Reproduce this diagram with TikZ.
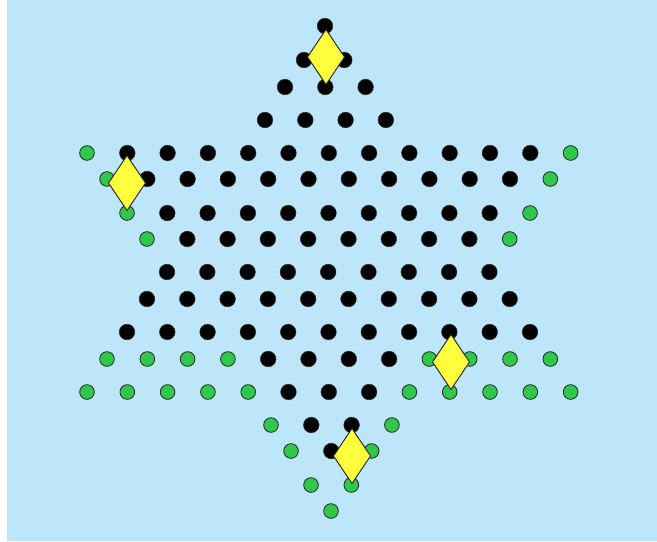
\documentclass[tikz,border=0pt]{standalone}
\usepackage{tikz}

\definecolor{boardblue}{HTML}{BEE6FA}
\definecolor{holegreen}{HTML}{2EC84A}
\definecolor{pegyellow}{HTML}{FFFF3C}

\begin{document}
\begin{tikzpicture}[x=0.03cm, y=-0.03cm,
        hole/.style={fill=black, draw=black!80, line width=0.4pt},
        home/.style={fill=holegreen, draw=black!85, line width=0.7pt},
        peg/.style={fill=pegyellow, draw=black!85, line width=0.8pt, line join=round}]
        \useasboundingbox (0, 0) rectangle (657, 541);
        \fill[white] (0, 0) rectangle (657, 541);
        \fill[boardblue] (7, 0) rectangle (657, 541);
        % rows: y / first x / green left / black / green right
        \foreach \y/\x/\gl/\nb/\gr in {26/325/0/1/0, 60/304/0/2/0, 87/285/0/3/0, 120/265/0/4/0,
            153/87/1/11/1, 179/107/1/10/1, 213/127/1/9/1, 239/147/1/8/1,
            272/167/0/9/0, 299/147/0/10/0, 332/127/0/11/0,
            359/107/4/4/4, 392/87/5/3/5,
            425/271/1/2/1, 451/291/1/1/1, 485/311/1/0/1, 511/331/1/0/0}
        {
            \pgfmathtruncatemacro{\n}{\gl + \nb + \gr - 1}
            \foreach \i in {0, ..., \n} {
                \pgfmathtruncatemacro{\isblack}{and(\i >= \gl, \i < \gl + \nb)}
                \ifnum\isblack=1
                    \filldraw[hole] (\x + 40.3*\i, \y) circle[radius=0.235cm];
                \else
                    \filldraw[home] (\x + 40.3*\i, \y) circle[radius=0.22cm];
                \fi
            }
        }
        % pegs
        \foreach \px/\py in {326/57, 127/183, 451/362, 352/456}
            \filldraw[peg] (\px, \py - 27.5) -- (\px + 18.5, \py) -- (\px, \py + 27.5) -- (\px - 18.5, \py) -- cycle;
    \end{tikzpicture}
\end{document}
